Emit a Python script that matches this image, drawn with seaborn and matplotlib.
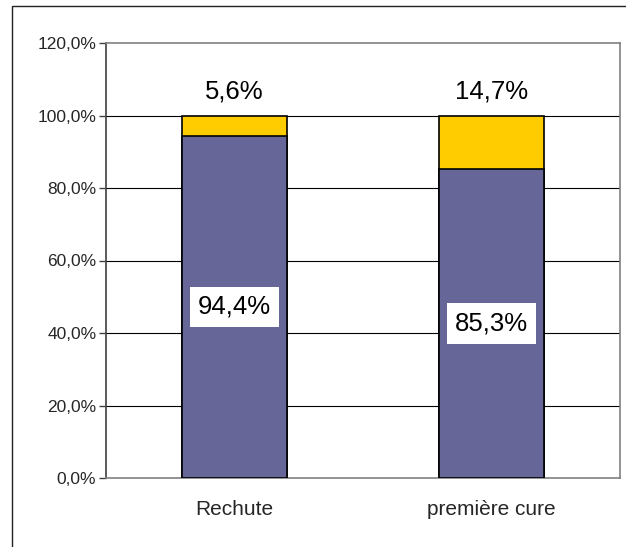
import matplotlib
matplotlib.use("Agg")
import matplotlib.pyplot as plt
import matplotlib.patches as mpatches
from matplotlib.ticker import FuncFormatter, FixedLocator
import seaborn as sns
import pandas as pd

categories = ["Rechute", "première cure"]
purple_vals = [94.4, 85.3]
yellow_vals = [5.6, 14.7]
y_ticks = [0, 20, 40, 60, 80, 100, 120]

PURPLE = "#666699"
YELLOW = "#FFCC00"


def fr_pct(v, decimals=1):
    return f"{v:.{decimals}f}%".replace(".", ",")


df = pd.DataFrame({"cat": categories, "purple": purple_vals, "yellow": yellow_vals})
df["total"] = df["purple"] + df["yellow"]

sns.set_style("white")
plt.rcParams["font.family"] = ["Liberation Sans", "DejaVu Sans"]

fig = plt.figure(figsize=(6.26, 5.47), dpi=100)
ax = fig.add_axes([106 / 626, 1 - 478 / 547, 514 / 626, 435 / 547])

# outer chart border (cut off at right/bottom like the source)
fig.patches.append(mpatches.Rectangle((12 / 626, -0.1), 1.2, 1.1 - 6 / 547,
                                      transform=fig.transFigure, fill=False,
                                      edgecolor="#222222", linewidth=1.0))

# gridlines behind bars
for v in y_ticks[1:-1]:
    ax.axhline(v, color="black", linewidth=0.8, zorder=0)

sns.barplot(data=df, x="cat", y="total", color=YELLOW, width=0.405,
            edgecolor="black", linewidth=1.2, saturation=1, ax=ax, zorder=2)
sns.barplot(data=df, x="cat", y="purple", color=PURPLE, width=0.405,
            edgecolor="black", linewidth=1.2, saturation=1, ax=ax, zorder=3)

for i, row in df.iterrows():
    ax.text(i, row["total"] + 6.5, fr_pct(row["yellow"]), ha="center", va="center",
            fontsize=18.5, color="black", zorder=5)
    ax.text(i, row["purple"] / 2, fr_pct(row["purple"]), ha="center", va="center",
            fontsize=18.5, color="black", zorder=5,
            bbox=dict(boxstyle="square,pad=0.32", facecolor="white", edgecolor="none"))

ax.set_xlim(-0.5, 1.5)
ax.set_ylim(0, 120)
ax.yaxis.set_major_locator(FixedLocator(y_ticks))
ax.yaxis.set_major_formatter(FuncFormatter(lambda v, p: fr_pct(v)))
ax.tick_params(axis="y", direction="out", length=5, width=1, color="#404040",
               labelsize=12.5, pad=2, left=True)
ax.set_xticks([0, 1])
ax.set_xticklabels(categories)
ax.set_xticks([-0.5, 0.5, 1.5], minor=True)
ax.tick_params(axis="x", which="major", length=0, labelsize=15, pad=16)
ax.tick_params(axis="x", which="minor", direction="out", length=5, width=1, color="#808080")
ax.set_xlabel("")
ax.set_ylabel("")

for side in ["top", "right", "bottom"]:
    ax.spines[side].set_color("#808080")
    ax.spines[side].set_linewidth(1.2)
ax.spines["left"].set_color("#404040")
ax.spines["left"].set_linewidth(1.2)

fig.savefig("out.png", dpi=100)
